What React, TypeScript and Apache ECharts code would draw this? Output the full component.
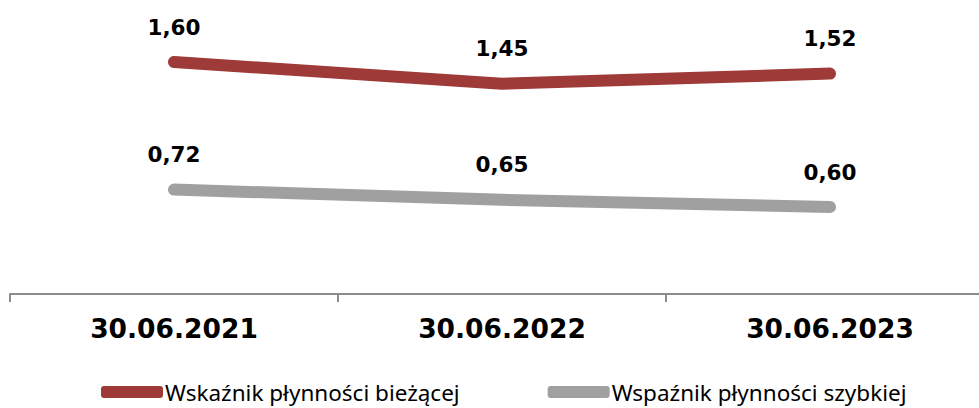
import React, { useEffect, useRef } from "react";
import * as echarts from "echarts";

const categories = ["30.06.2021", "30.06.2022", "30.06.2023"];
const currentRatio = [1.6, 1.45, 1.52];
const quickRatio = [0.72, 0.65, 0.6];
const seriesNames = ["Wskaźnik płynności bieżącej", "Wspaźnik płynności szybkiej"];

export default function App() {
  const ref = useRef<HTMLDivElement>(null);
  useEffect(() => {
    const chart = echarts.init(ref.current!, null, { renderer: "svg" });
    const label = {
      show: true,
      position: "top" as const,
      distance: 24,
      fontFamily: "DejaVu Sans",
      fontWeight: "bold" as const,
      fontSize: 21.5,
      color: "#000",
      formatter: (p: any) => Number(p.value).toFixed(2).replace(".", ","),
    };
    chart.setOption({
      animation: false,
      backgroundColor: "#fff",
      grid: { left: 10, top: 4, width: 984, bottom: 114, containLabel: false, outerBoundsMode: "none" },
      xAxis: {
        type: "category",
        data: categories,
        boundaryGap: true,
        axisLine: { lineStyle: { color: "#8c8c8c", width: 2 } },
        axisTick: { show: true, length: 8, lineStyle: { color: "#8c8c8c", width: 2 } },
        axisLabel: {
          margin: 21,
          fontFamily: "DejaVu Sans",
          fontWeight: "bold",
          fontSize: 26.5,
          color: "#000",
        },
      },
      yAxis: { type: "value", min: 0, max: 2, show: false, splitLine: { show: false } },
      legend: {
        left: 96,
        top: 374,
        itemWidth: 62,
        itemHeight: 12,
        itemGap: 88,
        icon: "roundRect",
        textStyle: {
          fontFamily: "Noto Sans",
          fontSize: 22.5,
          lineHeight: 26,
          color: "#000",
          padding: [0, 0, 0, -3],
        },
        data: seriesNames,
      },
      series: [
        {
          name: seriesNames[0],
          type: "line",
          data: currentRatio,
          symbol: "circle",
          symbolSize: 0,
          showSymbol: true,
          color: "#9e3a38",
          lineStyle: { width: 12, color: "#9e3a38", cap: "round", join: "round" },
          label,
        },
        {
          name: seriesNames[1],
          type: "line",
          data: quickRatio,
          symbol: "circle",
          symbolSize: 0,
          showSymbol: true,
          color: "#a0a0a0",
          lineStyle: { width: 12, color: "#a0a0a0", cap: "round", join: "round" },
          label,
        },
      ],
    });
    return () => chart.dispose();
  }, []);
  return <div ref={ref} style={{ width: 979, height: 408, position: "fixed", left: 0, top: 0 }} />;
}
